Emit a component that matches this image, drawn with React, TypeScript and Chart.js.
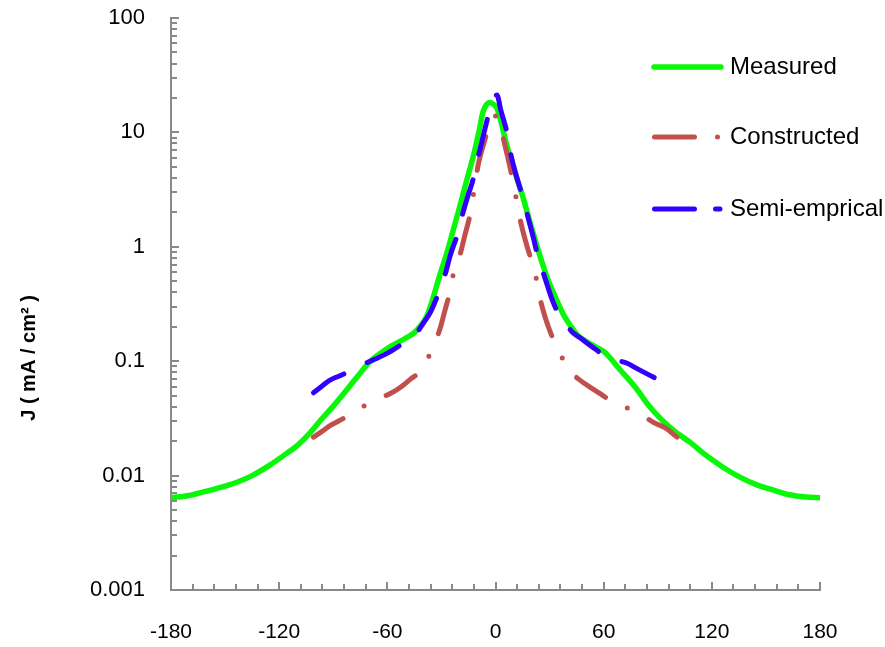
import React, { useEffect, useRef } from 'react';
import { Chart, registerables } from 'chart.js';

Chart.register(...registerables);

// ---------- data ----------
const measuredX = [-180, -170, -162, -150, -143, -135, -125, -118, -110, -103, -97, -90, -82, -75, -70, -63, -57, -50, -45, -42, -38, -35, -31, -27, -24, -20, -16, -12, -9, -7, -5, -3, -1, 1, 3, 6, 9, 12, 15, 18, 21, 25, 29, 34, 38, 42, 46, 50, 55, 60, 64, 68, 73, 78, 85, 92, 100, 108, 115, 120, 126, 135, 145, 155, 163, 172, 180];
const measuredY = [0.0064, 0.0067, 0.0072, 0.0081, 0.0088, 0.0100, 0.0124, 0.0148, 0.0183, 0.0235, 0.0305, 0.0405, 0.0575, 0.079, 0.098, 0.12, 0.138, 0.158, 0.178, 0.2, 0.25, 0.34, 0.56, 0.88, 1.3, 2.2, 3.8, 6.5, 10.5, 15, 17.5, 18.3, 17.5, 16, 12.5, 8.0, 5.6, 3.9, 2.8, 1.9, 1.3, 0.8, 0.52, 0.34, 0.25, 0.2, 0.166, 0.15, 0.135, 0.122, 0.105, 0.088, 0.072, 0.058, 0.041, 0.031, 0.024, 0.0195, 0.0158, 0.0138, 0.0119, 0.0098, 0.0083, 0.0074, 0.0068, 0.0065, 0.0064];

const constructedX = [-101, -96, -92, -87, -82, -77, -72, -66, -60, -55, -51, -47, -42, -39, -36, -31, -28, -25, -23, -20, -17, -14, -11.5, -9.5, -6, -3, -1, 1, 2.5, 5.5, 8, 10.5, 13, 15.3, 18, 21.9, 24.1, 27.5, 31, 35.8, 42.4, 47, 52.4, 58, 63.5, 71.9, 77, 82.9, 88, 94, 100.7];
const constructedY = [0.0217, 0.0245, 0.0272, 0.030, 0.0332, 0.037, 0.0414, 0.046, 0.0507, 0.056, 0.062, 0.07, 0.0805, 0.095, 0.12, 0.187, 0.28, 0.42, 0.62, 0.82, 1.26, 1.95, 3.4, 5.3, 8.5, 12.3, 14, 13.5, 11.6, 7.4, 5.0, 3.2, 1.95, 1.35, 0.95, 0.60, 0.39, 0.243, 0.17, 0.116, 0.079, 0.068, 0.0594, 0.052, 0.0458, 0.0398, 0.036, 0.0325, 0.029, 0.0262, 0.0217];

const semiX = [-101, -96, -92, -87, -82, -77, -72, -67, -62, -57, -52, -47, -43, -40, -36, -32, -28, -25, -21, -18, -15, -13, -9, -6, -3.5, -1.5, 0.8, 3, 6.4, 8.6, 11.5, 14.7, 18, 21, 23.6, 27.5, 31, 35.8, 40, 43, 47, 52, 57, 61, 67, 73, 78, 83, 88, 93];
const semiY = [0.053, 0.061, 0.068, 0.074, 0.080, 0.087, 0.096, 0.104, 0.113, 0.125, 0.141, 0.160, 0.184, 0.215, 0.27, 0.38, 0.57, 0.85, 1.3, 2.0, 2.9, 3.6, 6.7, 10.5, 15, 18.5, 21.2, 15.5, 9.9, 6.3, 4.2, 2.84, 1.82, 1.2, 0.81, 0.53, 0.36, 0.243, 0.2, 0.177, 0.16, 0.139, 0.122, 0.109, 0.102, 0.096, 0.087, 0.079, 0.072, 0.066];

const seriesLabels = ['Measured', 'Constructed', 'Semi-emprical'];
const xTickValues = [-180, -120, -60, 0, 60, 120, 180];
const xTickLabels = ['-180', '-120', '-60', '0', '60', '120', '180'];
const yTickValues = [0.001, 0.01, 0.1, 1, 10, 100];
const yTickLabels = ['0.001', '0.01', '0.1', '1', '10', '100'];
const yTitle = 'J ( mA / cm\u00B2 )';

// ---------- style ----------
const GREEN = '#0AF70A';
const RED = '#C0504D';
const BLUE = '#3300FF';
const AXIS = '#898989';
const FONT = "'Liberation Sans', Arial, sans-serif";
const RED_DASH = [35, 24.5, 0, 24.5];
const BLUE_DASH = [36, 26];
const LEGEND_DASHES = [[], [40, 23, 0, 23], [40, 21]];

const pts = (xs: number[], ys: number[]) => xs.map((x, i) => ({ x, y: ys[i] }));

const axisTicksPlugin = {
  id: 'axisTicks',
  beforeDatasetsDraw(chart: any) {
    const { ctx, chartArea: a, scales } = chart;
    const x = scales.x;
    const y = scales.y;
    ctx.save();
    ctx.strokeStyle = AXIS;
    ctx.lineWidth = 2;
    ctx.beginPath();
    for (const d of yTickValues) {
      for (let k = 1; k <= 9; k++) {
        const v = d * k;
        if (v > 100 + 1e-9) break;
        const py = Math.round(y.getPixelForValue(v));
        const len = k === 1 ? 8 : 6;
        ctx.moveTo(a.left, py);
        ctx.lineTo(a.left + len, py);
      }
    }
    for (let v = -180; v <= 180; v += 12) {
      const px = Math.round(x.getPixelForValue(v));
      const len = v % 60 === 0 ? 8 : 6;
      ctx.moveTo(px, a.bottom);
      ctx.lineTo(px, a.bottom - len);
    }
    ctx.stroke();
    ctx.restore();
  },
};

const legendPlugin = {
  id: 'customLegend',
  afterDraw(chart: any) {
    const { ctx } = chart;
    const rows = [
      { i: 0, y: 67, x1: 654, x2: 721 },
      { i: 1, y: 137, x1: 654.5, x2: 720 },
      { i: 2, y: 209, x1: 654.5, x2: 720 },
    ];
    ctx.save();
    for (const r of rows) {
      const ds = chart.data.datasets[r.i];
      ctx.strokeStyle = ds.borderColor;
      ctx.lineWidth = ds.borderWidth;
      ctx.lineCap = 'round';
      ctx.setLineDash(LEGEND_DASHES[r.i]);
      ctx.beginPath();
      ctx.moveTo(r.x1, r.y);
      ctx.lineTo(r.x2, r.y);
      ctx.stroke();
      ctx.setLineDash([]);
      ctx.fillStyle = '#000';
      ctx.font = `24px ${FONT}`;
      ctx.textAlign = 'left';
      ctx.textBaseline = 'middle';
      ctx.fillText(ds.label, 730, r.y);
    }
    ctx.restore();
  },
};

const yTitlePlugin = {
  id: 'yTitle',
  afterDraw(chart: any) {
    const { ctx, chartArea: a } = chart;
    ctx.save();
    ctx.translate(29, (a.top + a.bottom) / 2 + 54);
    ctx.rotate(-Math.PI / 2);
    ctx.fillStyle = '#000';
    ctx.font = `bold 20px ${FONT}`;
    ctx.textAlign = 'center';
    ctx.textBaseline = 'middle';
    ctx.fillText(yTitle, 0, 0);
    ctx.restore();
  },
};

export default function App() {
  const ref = useRef<HTMLCanvasElement>(null);
  useEffect(() => {
    document.body.style.margin = '0';
    const chart = new Chart(ref.current as HTMLCanvasElement, {
      type: 'line',
      data: {
        datasets: [
          {
            label: seriesLabels[0],
            data: pts(measuredX, measuredY),
            borderColor: GREEN,
            borderWidth: 5.5,
            pointRadius: 0,
            cubicInterpolationMode: 'monotone',
            borderCapStyle: 'round',
            borderJoinStyle: 'round',
            order: 3,
          },
          {
            label: seriesLabels[1],
            data: pts(constructedX, constructedY),
            borderColor: RED,
            borderWidth: 5,
            borderDash: RED_DASH,
            pointRadius: 0,
            cubicInterpolationMode: 'monotone',
            borderCapStyle: 'round',
            borderJoinStyle: 'round',
            order: 2,
          },
          {
            label: seriesLabels[2],
            data: pts(semiX, semiY),
            borderColor: BLUE,
            borderWidth: 5,
            borderDash: BLUE_DASH,
            pointRadius: 0,
            cubicInterpolationMode: 'monotone',
            borderCapStyle: 'round',
            borderJoinStyle: 'round',
            order: 1,
          },
        ] as any,
      },
      options: {
        animation: false,
        responsive: false,
        events: [],
        layout: { padding: { left: 0, right: 65, top: 18, bottom: 0 } },
        plugins: { legend: { display: false }, tooltip: { enabled: false } },
        scales: {
          x: {
            type: 'linear',
            min: -180,
            max: 180,
            afterBuildTicks: (s: any) => {
              s.ticks = xTickValues.map((v) => ({ value: v }));
            },
            afterFit: (s: any) => {
              s.height = 57;
              s.paddingLeft = 0;
              s.paddingRight = 0;
            },
            grid: { display: false, drawTicks: false },
            border: { display: true, color: AXIS, width: 2 },
            ticks: {
              padding: 30,
              color: '#000',
              font: { family: FONT, size: 21 },
              maxRotation: 0,
              autoSkip: false,
              callback: (_v: any, i: number) => xTickLabels[i],
            },
          },
          y: {
            type: 'logarithmic',
            min: 0.001,
            max: 100,
            afterBuildTicks: (s: any) => {
              s.ticks = yTickValues.map((v) => ({ value: v }));
            },
            afterFit: (s: any) => {
              s.width = 171;
              s.paddingTop = 0;
              s.paddingBottom = 0;
            },
            grid: { display: false, drawTicks: false },
            border: { display: true, color: AXIS, width: 2 },
            ticks: {
              padding: 26,
              color: '#000',
              font: { family: FONT, size: 22 },
              autoSkip: false,
              callback: (_v: any, i: number) => yTickLabels[i],
            },
          },
        },
      } as any,
      plugins: [axisTicksPlugin, legendPlugin, yTitlePlugin],
    });
    return () => chart.destroy();
  }, []);
  return <canvas ref={ref} width={885} height={647} style={{ display: 'block' }} />;
}
